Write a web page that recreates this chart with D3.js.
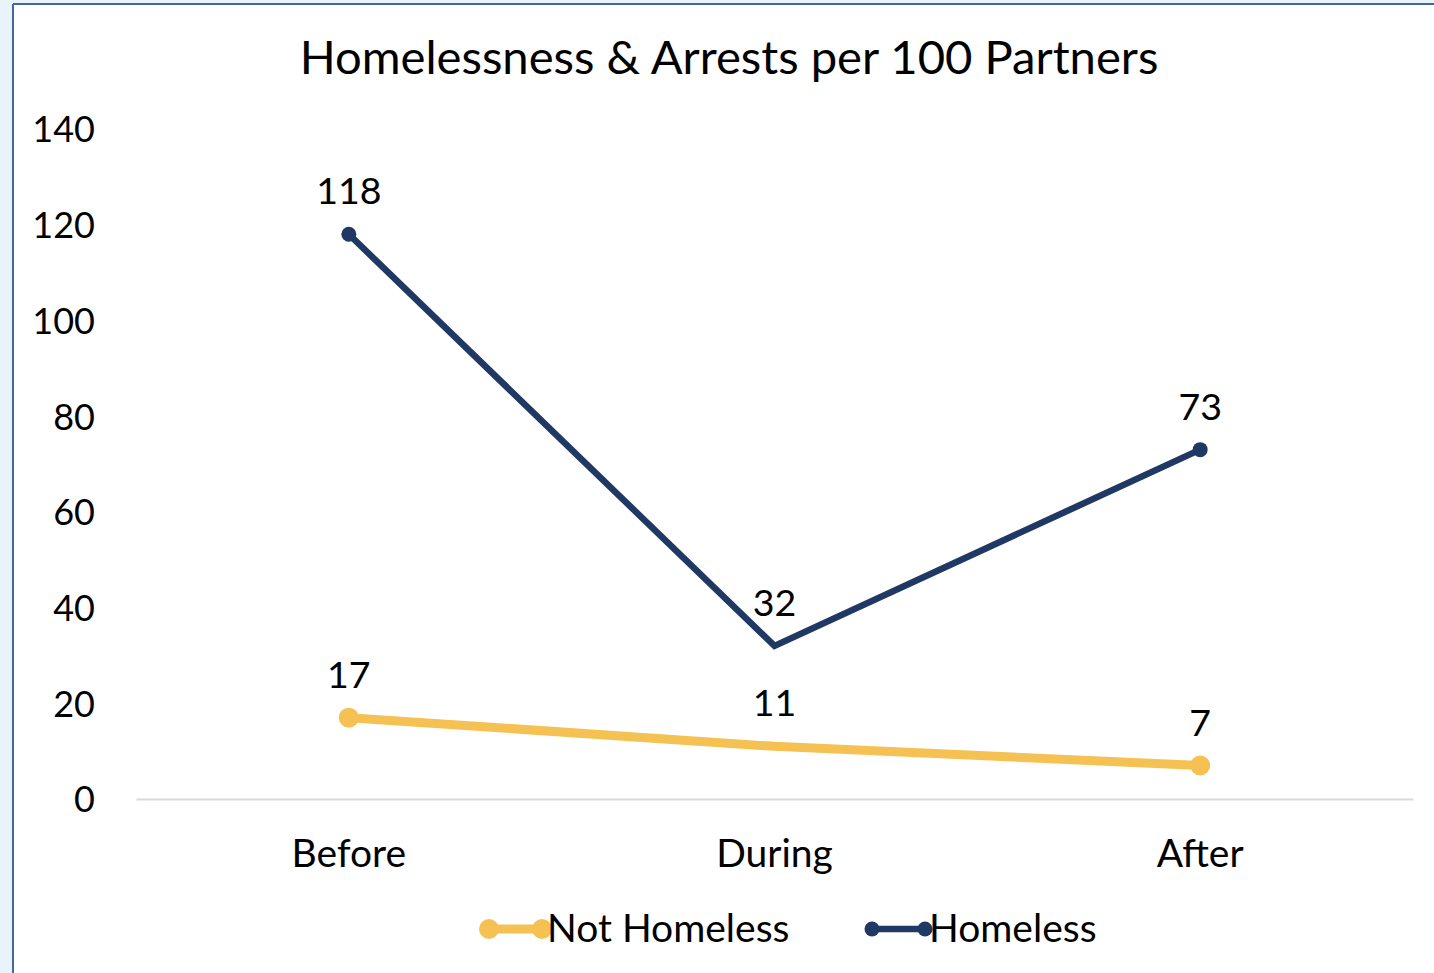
<!DOCTYPE html>
<html>
<head>
<meta charset="utf-8">
<script src="https://cdn.jsdelivr.net/npm/d3@7"></script>
<style>
  html, body { margin: 0; padding: 0; background: #e8f3fa; }
  svg { display: block; }
  text { font-family: Lato, "Open Sans", sans-serif; fill: #000; }
</style>
</head>
<body>
<svg id="chart" width="1434" height="973"></svg>
<script>
// Chart data
const title = "Homelessness & Arrests per 100 Partners";
const categories = ["Before", "During", "After"];
const notHomeless = [17, 11, 7];
const homeless = [118, 32, 73];
const yTicks = [0, 20, 40, 60, 80, 100, 120, 140];
const seriesNames = ["Not Homeless", "Homeless"];
const seriesColors = ["#f4c152", "#203864"];

const svg = d3.select("#chart");
const W = 1434, H = 973;

// page background and chart frame
svg.append("rect").attr("width", W).attr("height", H).attr("fill", "#e8f3fa");
svg.append("rect").attr("x", 14).attr("y", 5).attr("width", W).attr("height", H).attr("fill", "#fff");
svg.append("line").attr("x1", 13).attr("x2", 13).attr("y1", 4).attr("y2", H)
  .attr("stroke", "#4664a0").attr("stroke-width", 2);
svg.append("line").attr("x1", 13).attr("x2", W).attr("y1", 4).attr("y2", 4)
  .attr("stroke", "#4664a0").attr("stroke-width", 2);

const plot = { left: 136, right: 1413, top: 129, bottom: 799 };

const x = d3.scaleBand().domain(categories).range([plot.left, plot.right]);
const y = d3.scaleLinear().domain([0, 140]).range([plot.bottom, plot.top]);

// title
svg.append("text").attr("x", 729).attr("y", 74).attr("text-anchor", "middle")
  .attr("font-size", 47.2).text(title);

// y axis labels (no axis line)
const yAxis = d3.axisLeft(y).tickValues(yTicks).tickSize(0).tickPadding(0);
const gy = svg.append("g").attr("transform", "translate(95,0)").call(yAxis);
gy.select(".domain").remove();
gy.selectAll("text").attr("font-size", 36).attr("font-family", "Lato, sans-serif")
  .attr("fill", "#000").attr("dy", "0.36em");

// x axis baseline and category labels
const xAxis = d3.axisBottom(x).tickSize(0).tickPadding(0);
const gx = svg.append("g").attr("transform", `translate(0,${plot.bottom})`).call(xAxis);
gx.select(".domain").attr("stroke", "#d9d9d9").attr("stroke-width", 2);
gx.selectAll("text").attr("font-size", 39).attr("font-family", "Lato, sans-serif")
  .attr("fill", "#000").attr("dy", 0).attr("y", 68);

const cx = c => x(c) + x.bandwidth() / 2;

const series = [
  { name: seriesNames[0], values: notHomeless, color: seriesColors[0], width: 9, r: 10 },
  { name: seriesNames[1], values: homeless, color: seriesColors[1], width: 6.5, r: 7.5 }
];

const line = d3.line().x((d, i) => cx(categories[i])).y(d => y(d));

series.forEach(s => {
  const g = svg.append("g");
  g.append("path").attr("d", line(s.values)).attr("fill", "none")
    .attr("stroke", s.color).attr("stroke-width", s.width)
    .attr("stroke-linejoin", "miter").attr("stroke-linecap", "butt");
  // markers on the first and last points
  const ends = [0, s.values.length - 1];
  g.selectAll("circle").data(ends).join("circle")
    .attr("cx", i => cx(categories[i])).attr("cy", i => y(s.values[i]))
    .attr("r", s.r).attr("fill", s.color);
  // value labels
  g.selectAll("text").data(s.values).join("text")
    .attr("x", (d, i) => cx(categories[i])).attr("y", d => y(d) - 30)
    .attr("text-anchor", "middle").attr("font-size", 37.5).text(d => d);
});

// legend
const legendItems = [
  { s: series[0], x0: 489, x1: 542, tx: 547 },
  { s: series[1], x0: 872, x1: 925, tx: 929 }
];
const ly = 929;
legendItems.forEach(it => {
  const g = svg.append("g");
  g.append("line").attr("x1", it.x0).attr("x2", it.x1).attr("y1", ly).attr("y2", ly)
    .attr("stroke", it.s.color).attr("stroke-width", it.s.width);
  g.selectAll("circle").data([it.x0, it.x1]).join("circle")
    .attr("cx", d => d).attr("cy", ly).attr("r", it.s.r).attr("fill", it.s.color);
  g.append("text").attr("x", it.tx).attr("y", 942).attr("font-size", 39).text(it.s.name);
});
</script>
</body>
</html>
